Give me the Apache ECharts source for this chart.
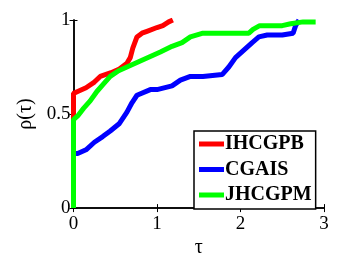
<!DOCTYPE html>
<html><head><meta charset="utf-8">
<script src="https://cdn.jsdelivr.net/npm/echarts@6/dist/echarts.min.js"></script>
<style>html,body{margin:0;padding:0;background:#fff}#c{width:344px;height:263px}</style>
</head><body><div id="c"></div>
<script>
var seriesNames = ['IHCGPB', 'CGAIS', 'JHCGPM'];
var xTicks = [0, 1, 2, 3];
var yTicks = [0, 0.5, 1];
var redX = [0, 0, 0.05, 0.15, 0.25, 0.32, 0.45, 0.55, 0.64, 0.68, 0.71, 0.76, 0.82, 0.88, 1.00, 1.07, 1.14, 1.19];
var redY = [0, 0.61, 0.62, 0.64, 0.67, 0.70, 0.72, 0.74, 0.77, 0.80, 0.85, 0.91, 0.93, 0.94, 0.96, 0.97, 0.99, 1.0];
var blueX = [0, 0, 0.05, 0.15, 0.25, 0.35, 0.44, 0.55, 0.64, 0.70, 0.76, 0.92, 1.00, 1.18, 1.28, 1.40, 1.55, 1.78, 1.86, 1.94, 2.04, 2.14, 2.22, 2.32, 2.50, 2.63, 2.66, 2.70];
var blueY = [0, 0.29, 0.29, 0.31, 0.35, 0.38, 0.41, 0.45, 0.51, 0.56, 0.60, 0.63, 0.63, 0.65, 0.68, 0.70, 0.70, 0.71, 0.75, 0.80, 0.84, 0.88, 0.91, 0.92, 0.92, 0.93, 0.97, 1.0];
var greenX = [0, 0, 0.05, 0.12, 0.20, 0.28, 0.36, 0.44, 0.54, 0.64, 0.84, 1.04, 1.18, 1.30, 1.40, 1.55, 1.80, 2.10, 2.15, 2.23, 2.50, 2.60, 2.75, 2.90];
var greenY = [0, 0.47, 0.49, 0.53, 0.57, 0.62, 0.66, 0.70, 0.73, 0.75, 0.79, 0.83, 0.86, 0.88, 0.91, 0.93, 0.93, 0.93, 0.95, 0.97, 0.97, 0.98, 0.99, 0.99];
var colors = ['#ff0000', '#0000ff', '#00ff00'];

function pts(xs, ys) { return xs.map(function (x, i) { return [x, ys[i]]; }); }
var serif = '"Liberation Serif","Times New Roman",serif';
var chart = echarts.init(document.getElementById('c'), null, {renderer: 'canvas'});
var axisLine = {show: true, lineStyle: {color: '#000', width: 1.5}};
var series = [pts(redX, redY), pts(blueX, blueY), pts(greenX, greenY)].map(function (d, i) {
  return {
    name: seriesNames[i], type: 'line', data: d, showSymbol: false, symbol: 'circle',
    xAxisIndex: 0, yAxisIndex: 0, z: 2 + i,
    lineStyle: {color: colors[i], width: 5}, itemStyle: {color: colors[i]}, animation: false
  };
});
chart.setOption({
  animation: false,
  grid: {left: 73.5, right: 20, top: 20, bottom: 52, containLabel: false},
  legend: {
    orient: 'vertical', left: 194, top: 131, data: seriesNames,
    icon: 'rect', itemWidth: 25, itemHeight: 5, itemGap: 5.5,
    padding: [3, 4, 4, 5], borderColor: '#000', borderWidth: 1.5, backgroundColor: '#fff',
    textStyle: {fontFamily: serif, fontWeight: 'bold', fontSize: 20, color: '#000', lineHeight: 20, padding: [0, 0, 0, -4]}
  },
  xAxis: [{
    type: 'value', min: 0, max: 3, interval: 1, position: 'bottom',
    name: 'τ', nameLocation: 'middle', nameGap: 26,
    nameTextStyle: {fontFamily: serif, fontSize: 20, color: '#000'},
    axisLine: axisLine, axisTick: {inside: true, length: 4, lineStyle: {color: '#000'}},
    axisLabel: {fontFamily: serif, fontSize: 19, color: '#000', margin: 6},
    splitLine: {show: false}
  }, {
    type: 'value', min: 0, max: 3, interval: 1, position: 'top',
    axisLine: axisLine, axisTick: {inside: true, length: 4, lineStyle: {color: '#000'}},
    axisLabel: {show: false}, splitLine: {show: false}
  }],
  yAxis: [{
    type: 'value', min: 0, max: 1, interval: 0.5, position: 'left',
    name: 'ρ(τ)', nameLocation: 'middle', nameGap: 36,
    nameTextStyle: {fontFamily: serif, fontSize: 20, color: '#000'},
    axisLine: axisLine, axisTick: {inside: true, length: 4, lineStyle: {color: '#000'}},
    axisLabel: {fontFamily: serif, fontSize: 19, color: '#000', margin: 3},
    splitLine: {show: false}
  }, {
    type: 'value', min: 0, max: 1, interval: 0.5, position: 'right',
    axisLine: axisLine, axisTick: {inside: true, length: 4, lineStyle: {color: '#000'}},
    axisLabel: {show: false}, splitLine: {show: false}
  }],
  series: series
});
</script></body></html>
